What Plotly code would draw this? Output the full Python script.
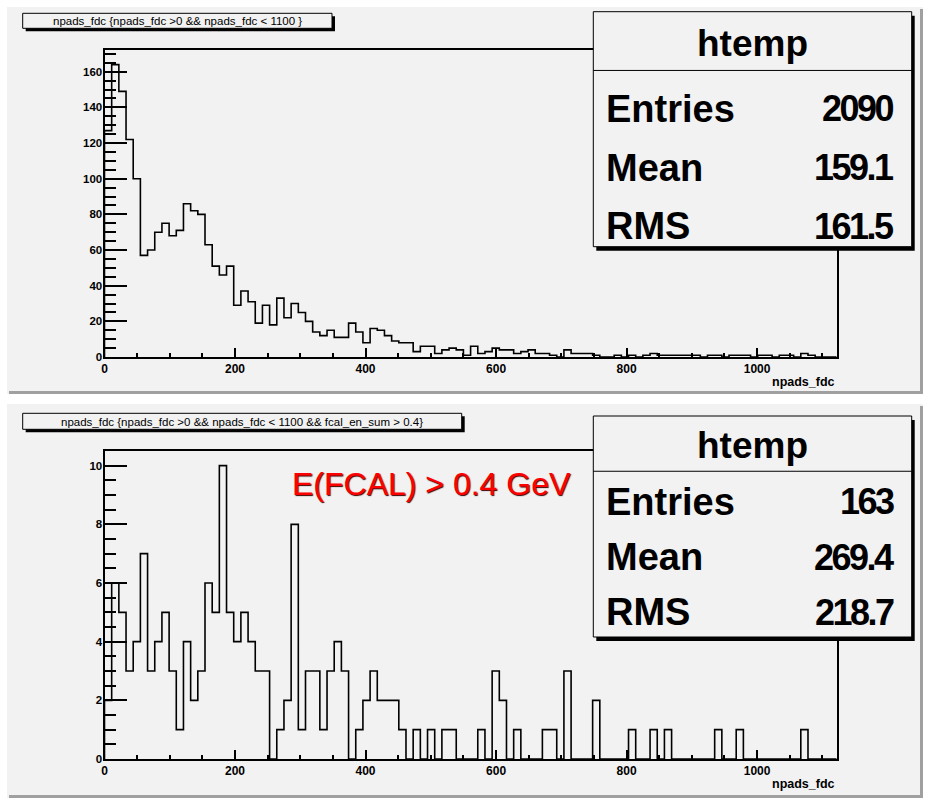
import numpy as np
import plotly.graph_objects as go

# ---------------- data ----------------
BIN_WIDTH = 11
N_BINS = 102
X_MAX = BIN_WIDTH * N_BINS  # 1122

top_counts = [127, 164, 149, 122, 100, 57, 60, 70, 75, 68, 71, 86, 82, 80, 63, 51, 46, 51, 29, 37,
              31, 19, 29, 18, 33, 22, 30, 25, 20, 14, 12, 15, 11, 11, 19, 14, 8,
              16, 15, 12, 9, 8, 8, 3, 6, 6, 2, 4, 5, 4, 1, 6, 2, 3, 5, 4, 4, 2, 3, 4, 2, 2, 1, 0,
              4, 2, 2, 2, 1, 0, 0, 1, 0, 1, 0, 1, 2, 1, 1, 1, 1, 1, 1, 0, 1, 1, 0, 1, 1, 1, 0,
              1, 1, 0, 1, 1, 0, 2, 1, 0, 0, 0]

bottom_counts = [2, 6, 5, 3, 4, 7, 3, 4, 5, 3, 1, 4, 2, 3, 6, 5, 10, 5, 4, 5, 4, 3, 3, 0, 1, 2, 8, 1,
                 3, 3, 1, 3, 4, 3, 0, 1,
                 2, 3, 2, 2, 2, 1, 0, 1, 0, 1, 0, 1, 1, 0, 0, 0, 1, 0, 3, 2, 0, 1, 0, 0, 0, 1, 1, 0,
                 3, 0, 0, 0, 2, 0, 0, 0, 0, 1, 0, 0, 1, 0, 1, 0, 0, 0, 0, 0, 0, 1, 0, 0, 1,
                 0, 0, 0, 0, 0, 0, 0, 0, 1, 0, 0, 0, 0]

top_title = "npads_fdc {npads_fdc >0 && npads_fdc < 1100 }"
bottom_title = "npads_fdc {npads_fdc >0 && npads_fdc < 1100 && fcal_en_sum > 0.4}"
x_label = "npads_fdc"
stats_name = "htemp"
stat_labels = ["Entries", "Mean", "RMS"]
top_stats = ["2090", "159.1", "161.5"]
bottom_stats = ["163", "269.4", "218.7"]
cut_label = "E(FCAL) > 0.4 GeV"

# ---------------- helpers ----------------
W, H = 929, 800
PAD = "#f2f2f2"
BEVEL = "#a0a0a0"
SANS = "Liberation Sans, Arial, sans-serif"


def fx(p):
    return p / W


def fy(p):
    return 1 - p / H


def step_xy(counts):
    edges = list(np.arange(N_BINS + 1) * BIN_WIDTH)
    xs = [edges[0]] + edges + [edges[-1]]
    ys = [0] + list(counts) + [counts[-1], 0]
    return xs, ys


fig = go.Figure()
for i, counts in enumerate([top_counts, bottom_counts]):
    xs, ys = step_xy(counts)
    fig.add_trace(go.Scatter(x=xs, y=ys, mode="lines", line=dict(color="black", width=1.6, shape="hv"),
                             xaxis="x" if i == 0 else "x2", yaxis="y" if i == 0 else "y2",
                             hoverinfo="skip"))

FX0, FX1 = 104.5, 836.7
frames = [(50, 357), (451, 759)]
ymax = [max(top_counts) * 1.05, max(bottom_counts) * 1.05]
ydt = [(20, 5), (2, 0.5)]

axis_common = dict(showgrid=False, zeroline=False, showline=True, linecolor="black", linewidth=2,
                   mirror=True, ticks="inside", tickcolor="black", tickwidth=1.5, automargin=False)
tickfont = dict(family=SANS, size=12, color="black", weight="bold")

layout_axes = {}
for i, (t, b) in enumerate(frames):
    sx = "" if i == 0 else "2"
    layout_axes["xaxis" + sx] = dict(axis_common, domain=[fx(FX0), fx(FX1)], anchor="y" + sx,
                                     range=[0, X_MAX], tick0=0, dtick=200, ticklen=9,
                                     minor=dict(ticks="inside", dtick=50, ticklen=4.5, tickcolor="black", tickwidth=1.5),
                                     tickfont=tickfont, ticklabelstandoff=0)
    layout_axes["yaxis" + sx] = dict(axis_common, domain=[fy(b), fy(t)], anchor="x" + sx,
                                     range=[0, ymax[i]], tick0=0, dtick=ydt[i][0], ticklen=22,
                                     minor=dict(ticks="inside", dtick=ydt[i][1], ticklen=11, tickcolor="black", tickwidth=1.5),
                                     tickfont=dict(tickfont, size=11.5), ticklabelstandoff=-2)

shapes = []
annotations = []


def rect(x0, y0, x1, y1, fill, line_color=None, lw=0, layer="below"):
    shapes.append(dict(type="rect", xref="paper", yref="paper", x0=fx(x0), x1=fx(x1), y0=fy(y1), y1=fy(y0),
                       fillcolor=fill, line=dict(color=line_color or fill, width=lw), layer=layer))


def hline(x0, x1, y, color="black", lw=1, layer="above"):
    shapes.append(dict(type="line", xref="paper", yref="paper", x0=fx(x0), x1=fx(x1), y0=fy(y), y1=fy(y),
                       line=dict(color=color, width=lw), layer=layer))


def text(x, y, s, size, family, xanchor="center", color="black", weight="normal", shadow=None):
    font = dict(family=family, size=size, color=color, weight=weight)
    if shadow:
        font["shadow"] = shadow
    annotations.append(dict(xref="paper", yref="paper", x=fx(x), y=fy(y), text=s, showarrow=False,
                            xanchor=xanchor, yanchor="middle", font=font))


# pads
for (pt, pb) in [(7, 394), (404, 798)]:
    rect(7, pt, 923, pb, PAD)
    rect(9, pb - 3, 923, pb, BEVEL)
    rect(920, pt + 2, 923, pb, BEVEL)

# title boxes
for (x0, y0, x1, y1, s) in [(22.7, 13.3, 332, 28.3, top_title), (22.7, 413.3, 461.7, 429.3, bottom_title)]:
    rect(x0 + 3, y0 + 3, x1 + 3, y1 + 3, "black", layer="above")
    rect(x0, y0, x1, y1, PAD, "black", 1, layer="above")
    text((x0 + x1) / 2, (y0 + y1) / 2 + 0.5, s, 11.5, SANS)

# stats boxes
for (x0, y0, x1, y1, vals, dy) in [(593.3, 11.7, 911.7, 246.7, top_stats, 9),
                                   (593.3, 416, 911.7, 637, bottom_stats, 3)]:
    rect(x0 + 3, y0 + 4, x1 + 3, y1 + 4, "black", layer="above")
    rect(x0, y0, x1, y1, PAD, "black", 1, layer="above")
    row = (y1 - y0) / 4
    hline(x0, x1, y0 + row)
    text((x0 + x1) / 2, y0 + row / 2 + 2, stats_name, 37, SANS, weight="bold")
    for k, (lab, val) in enumerate(zip(stat_labels, vals)):
        yc = y0 + row * (k + 1.5) + dy
        text(x0 + 11, yc, lab, 38, SANS, xanchor="left", weight="bold")
        text(x1 - 16, yc, '<span style="letter-spacing:-2.5px">' + val + '</span>', 36, SANS,
             xanchor="right", weight="bold")

# axis titles
for (t, b) in frames:
    text(FX1, b + 25, x_label, 12.5, SANS, xanchor="right", weight="bold")

# cut label
text(290, 484, cut_label, 32, SANS, xanchor="left", color="#ff0000", shadow="1px 1px 1px #400000")

fig.update_layout(width=W, height=H, margin=dict(l=0, r=0, t=0, b=0, autoexpand=False), paper_bgcolor="white",
                  plot_bgcolor="rgba(0,0,0,0)", showlegend=False, shapes=shapes, annotations=annotations,
                  **layout_axes)
fig.write_html("out.html", config={"displayModeBar": False},
               post_script="document.body.style.margin='0px';")
